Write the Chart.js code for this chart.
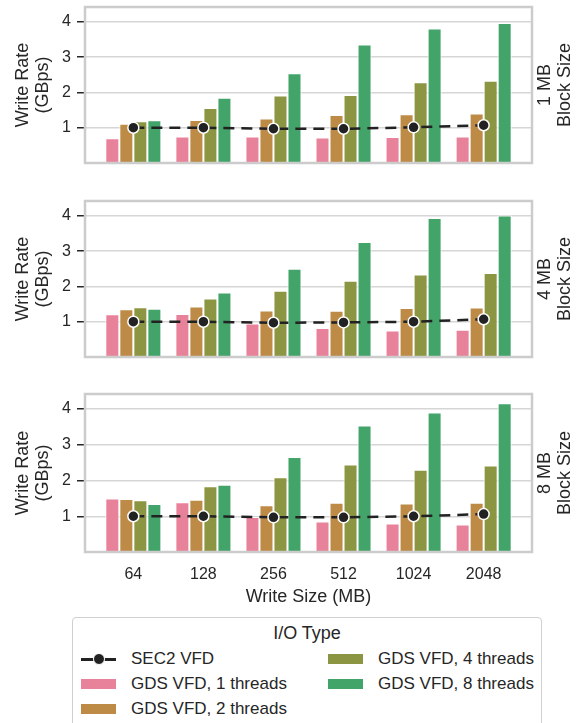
<!DOCTYPE html>
<html lang="en">
<head>
<meta charset="UTF-8">
<title>GDS VFD vs SEC2 VFD - Write Rate</title>
<script src="https://cdn.jsdelivr.net/npm/chart.js"></script>
<style>
    body {
        margin: 0;
        background: #fff;
        color: #262626;
        font-family: 'Liberation Sans', Arial, sans-serif;
    }
    #page { position: relative; width: 585px; height: 723px; overflow: hidden; }
    .panel { position: absolute; left: 0; }
    #legend {
        position: absolute; left: 72px; top: 617px; width: 470px; height: 120px;
        border: 1.3px solid #d0d0d0; border-radius: 4px; box-sizing: border-box;
    }
    .lg-title { position: absolute; left: 0; right: 0; top: 5px; text-align: center; font-size: 18px; }
    .lg-item { position: absolute; height: 20px; font-size: 17px; line-height: 20px; white-space: nowrap; }
    .lg-swatch { position: absolute; left: 0; top: 5px; width: 35px; height: 10px; }
    .lg-line { position: absolute; left: 0; top: 9px; width: 35px; height: 2.5px; background: #222; }
    .lg-dot { position: absolute; left: 12px; top: 4px; width: 10px; height: 10px; border-radius: 50%; background: #222; border: 1px solid #fff; }
</style>
</head>
<body>
<div id="page">
    <canvas id="c1" class="panel" style="top:0px" width="585" height="170"></canvas>
    <canvas id="c2" class="panel" style="top:194px" width="585" height="170"></canvas>
    <canvas id="c3" class="panel" style="top:387px" width="585" height="221"></canvas>
    <div id="legend"><div class="lg-title">I/O Type</div></div>
</div>

<script>
    const writeSizes = ['64', '128', '256', '512', '1024', '2048'];
    const blockSizes = ['1 MB', '4 MB', '8 MB'];
    const seriesNames = ['SEC2 VFD', 'GDS VFD, 1 threads', 'GDS VFD, 2 threads', 'GDS VFD, 4 threads', 'GDS VFD, 8 threads'];
    const barColors = ['#e8829a', '#bd8b45', '#8c9642', '#43a46a'];
    const yTicks = [1, 2, 3, 4];

    // write rates in GBps
    const sec2_1MB = [1.00, 1.00, 0.97, 0.97, 1.01, 1.07];
    const gds1_1MB = [0.70, 0.75, 0.75, 0.72, 0.74, 0.75];
    const gds2_1MB = [1.11, 1.22, 1.26, 1.36, 1.38, 1.40];
    const gds4_1MB = [1.18, 1.56, 1.91, 1.93, 2.29, 2.33];
    const gds8_1MB = [1.21, 1.85, 2.54, 3.36, 3.81, 3.97];

    const sec2_4MB = [1.00, 1.00, 0.97, 0.98, 1.00, 1.07];
    const gds1_4MB = [1.21, 1.22, 0.95, 0.82, 0.75, 0.77];
    const gds2_4MB = [1.35, 1.43, 1.32, 1.31, 1.39, 1.40];
    const gds4_4MB = [1.41, 1.66, 1.88, 2.16, 2.34, 2.38];
    const gds8_4MB = [1.37, 1.83, 2.50, 3.26, 3.94, 4.01];

    const sec2_8MB = [1.00, 1.00, 0.97, 0.97, 1.00, 1.06];
    const gds1_8MB = [1.50, 1.39, 0.98, 0.85, 0.80, 0.77];
    const gds2_8MB = [1.48, 1.46, 1.31, 1.38, 1.36, 1.38];
    const gds4_8MB = [1.45, 1.84, 2.09, 2.45, 2.30, 2.42];
    const gds8_8MB = [1.34, 1.88, 2.66, 3.54, 3.90, 4.16];

    const panels = [
        { canvas: 'c1', block: blockSizes[0], sec2: sec2_1MB, gds: [gds1_1MB, gds2_1MB, gds4_1MB, gds8_1MB], showX: false },
        { canvas: 'c2', block: blockSizes[1], sec2: sec2_4MB, gds: [gds1_4MB, gds2_4MB, gds4_4MB, gds8_4MB], showX: false },
        { canvas: 'c3', block: blockSizes[2], sec2: sec2_8MB, gds: [gds1_8MB, gds2_8MB, gds4_8MB, gds8_8MB], showX: true }
    ];

    Chart.defaults.font.family = "'Liberation Sans', Arial, sans-serif";
    Chart.defaults.color = '#262626';

    const toXY = vals => vals.map((v, i) => ({ x: i, y: v }));

    // light grey frame on all four sides
    const spines = {
        id: 'spines',
        afterDraw(chart) {
            const { ctx, chartArea: a } = chart;
            ctx.save();
            ctx.strokeStyle = '#cccccc';
            ctx.lineWidth = 2.5;
            ctx.strokeRect(a.left, a.top, a.right - a.left, a.bottom - a.top);
            ctx.restore();
        }
    };

    // "x MB / Block Size" row title on the right, reading bottom to top
    const blockTitle = {
        id: 'blockTitle',
        afterDraw(chart, args, opts) {
            const { ctx, chartArea: a } = chart;
            const cy = (a.top + a.bottom) / 2;
            ctx.save();
            ctx.fillStyle = '#262626';
            ctx.font = "18px 'Liberation Sans', Arial, sans-serif";
            ctx.textAlign = 'center';
            ctx.textBaseline = 'middle';
            opts.text.forEach((line, i) => {
                ctx.save();
                ctx.translate(a.right + 13 + i * 20, cy);
                ctx.rotate(-Math.PI / 2);
                ctx.fillText(line, 0, 0);
                ctx.restore();
            });
            ctx.restore();
        }
    };

    panels.forEach(p => {
        const datasets = [{
            type: 'line',
            label: seriesNames[0],
            data: toXY(p.sec2),
            borderColor: '#222',
            borderWidth: 2.5,
            borderDash: [11, 7],
            pointRadius: 5.5,
            pointBackgroundColor: '#222',
            pointBorderColor: '#fff',
            pointBorderWidth: 1.5,
            fill: false,
            tension: 0
        }];
        p.gds.forEach((vals, k) => {
            datasets.push({
                type: 'bar',
                label: seriesNames[k + 1],
                data: toXY(vals),
                backgroundColor: barColors[k],
                borderColor: '#fff',
                borderWidth: 1,
                categoryPercentage: 0.8,
                barPercentage: 1
            });
        });

        new Chart(document.getElementById(p.canvas), {
            type: 'bar',
            data: { datasets },
            options: {
                responsive: false,
                animation: false,
                layout: { padding: { top: 3, right: 53, left: 0, bottom: 0 } },
                plugins: {
                    legend: { display: false },
                    tooltip: { enabled: false },
                    blockTitle: { text: [p.block, 'Block Size'] }
                },
                scales: {
                    x: {
                        type: 'linear',
                        min: -0.69,
                        max: 5.69,
                        offset: false,
                        grid: { display: false, drawTicks: false },
                        border: { display: false },
                        afterBuildTicks: s => { s.ticks = writeSizes.map((_, i) => ({ value: i })); },
                        ticks: {
                            display: p.showX, autoSkip: false, maxRotation: 0, padding: 13,
                            font: { size: 16 },
                            callback: v => writeSizes[v]
                        },
                        title: { display: p.showX, text: 'Write Size (MB)', font: { size: 18 }, padding: 0 },
                        afterFit: s => {
                            s.height = p.showX ? 56 : 5;
                            s.paddingLeft = 0;
                            s.paddingRight = 0;
                        }
                    },
                    y: {
                        min: 0,
                        max: 4.42,
                        afterBuildTicks: s => { s.ticks = yTicks.map(v => ({ value: v })); },
                        grid: { color: '#d6d6d6', lineWidth: 1.5, tickColor: '#262626', tickWidth: 1.5, tickLength: 8 },
                        border: { display: false },
                        ticks: { padding: 6, font: { size: 16 } },
                        title: {
                            display: true,
                            text: ['Write Rate', '(GBps)'],
                            font: { size: 18, lineHeight: 1.1 },
                            padding: { top: 13, bottom: 0 }
                        },
                        afterFit: s => {
                            s.width = 85;
                            s.paddingTop = 0;
                            s.paddingBottom = 0;
                        }
                    }
                }
            },
            plugins: [spines, blockTitle]
        });
    });

    // legend: two columns, filled column by column
    const legend = document.getElementById('legend');
    seriesNames.forEach((name, i) => {
        const col = i < 3 ? 0 : 1;
        const row = i % 3;
        const item = document.createElement('div');
        item.className = 'lg-item';
        item.style.left = (col === 0 ? 8 : 255) + 'px';
        item.style.top = (31 + row * 25) + 'px';
        let mark;
        if (i === 0) {
            mark = '<div class="lg-line"></div><div class="lg-dot"></div>';
        } else {
            mark = `<div class="lg-swatch" style="background:${barColors[i - 1]}"></div>`;
        }
        item.innerHTML = mark + `<span style="position:absolute;left:50px;top:0">${name}</span>`;
        legend.appendChild(item);
    });
</script>
</body>
</html>
